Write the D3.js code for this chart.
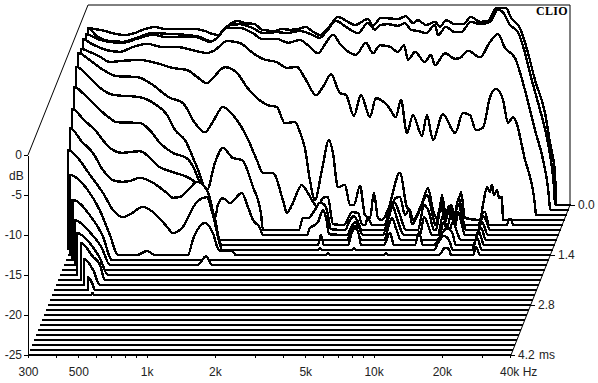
<!DOCTYPE html>
<html lang="en">

<head>
  <meta charset="utf-8">
  <title>CLIO waterfall</title>
  <script src="https://cdn.jsdelivr.net/npm/d3@7/dist/d3.min.js"></script>
  <style>
    html, body { margin: 0; padding: 0; background: #fff; }
    svg { display: block; }
    text { font-family: "Liberation Sans", Arial, sans-serif; font-size: 12px; fill: #222; }
    .clio { font-family: "Liberation Serif", serif; font-weight: bold; font-size: 12px; fill: #000; letter-spacing: 0.3px; }
    .frame { fill: none; stroke: #000; stroke-width: 1; shape-rendering: crispEdges; }
    .axis path, .axis line { stroke: #000; shape-rendering: crispEdges; }
  </style>
</head>

<body>
  <div id="chart"></div>

  <script>
    // every slice is a list of [Hz, dB], floor is -25 dB
    var slice00a = [[300,-2.9],[321,-3.0],[356,-3.25],[394,-3.6],[437,-3.75],[483,-3.5],[535,-3.0],[591,-2.75],[654,-3.0],[762,-3.0],[888,-3.0],[983,-3.25],[1055,-3.6],[1121,-3.75],[1204,-2.9],[1292,-2.25],[1359,-2.0],[1477,-2.25],[1632,-2.4],[1752,-3.1],[2000,-3.25],[2146,-3.0],[2328,-3.1],[2525,-3.0],[2739,-2.75],[2910,-3.25],[3156,-3.75],[3460,-2.75],[3790,-1.5],[4280,-2.25],[4504,-2.5],[5139,-1.75],[5406,-2.6],[5862,-1.6],[6968,-1.75],[7557,-1.4],[8114,-2.25],[8537,-1.9],[9260,-2.5],[10150,-2.1],[10680,-2.75],[11340,-1.9],[12430,-2.4],[13480,-2.4],[14620,-1.5],[16020,-2.1],[17370,-2.0],[18850,-0.4],[20880,-0.4],[21950,-1.6],[24060,-2.9],[26080,-6.0],[28000,-9.4],[31000,-13.5],[32600,-17.25],[34300,-21],[34600,-24.4],[34900,-25]];
    var slice00b = [[300,-2.9],[328,-3.9],[375,-4.5],[428,-4.6],[493,-4.1],[579,-3.5],[668,-3.6],[820,-3.75],[934,-4.0],[1065,-4.6],[1144,-3.75],[1241,-2.6],[1400,-2.4],[1599,-2.9],[1770,-3.5],[2040,-3.4],[2258,-3.5],[2577,-3.25],[2795,-3.5],[3156,-4.1],[3355,-3.4],[3713,-2.0],[4195,-2.9],[4643,-3.5],[5139,-2.25],[5520,-3.1],[5806,-2.5],[6296,-2.4],[6968,-2.6],[7480,-2.25],[7950,-3.1],[8537,-3.25],[9260,-3.5],[10150,-2.5],[10460,-3.75],[11340,-2.75],[12430,-3.4],[13210,-3.4],[14620,-2.1],[16020,-2.4],[17730,-2.1],[19230,-0.6],[20230,-0.9],[21720,-2.5],[23560,-3.4],[25300,-6.0],[26880,-9.0],[29450,-13.1],[31300,-16.0],[32900,-19.4],[33950,-22.75],[34300,-24.8],[34600,-25]];
    var slice01 = [[300,-3.0],[335,-3.6],[382,-4.0],[437,-4.1],[503,-3.6],[591,-3.1],[682,-3.4],[778,-3.4],[924,-3.4],[1055,-4.0],[1132,-3.5],[1253,-2.25],[1430,-2.25],[1632,-2.9],[1788,-3.6],[2082,-3.6],[2328,-4.1],[2630,-3.75],[2850,-4.4],[3156,-5.4],[3424,-4.1],[3677,-3.1],[3987,-4.4],[4643,-5.6],[5139,-4.1],[5520,-5.4],[5920,-4.4],[6557,-4.6],[7110,-5.25],[7560,-4.4],[7870,-6.25],[8450,-5.25],[9350,-6.5],[9940,-5.6],[10350,-6.9],[11450,-5.4],[12680,-6.1],[13340,-6.0],[14470,-5.1],[16350,-5.9],[18090,-4.0],[19620,-3.0],[21070,-4.75],[23320,-6.0],[25800,-10.0],[28570,-15.0],[31000,-18.75],[32600,-22.25],[33280,-24.75],[33600,-25]];
    var slice02 = [[297,-3.0],[319,-3.5],[379,-4.4],[432,-4.6],[493,-4.0],[568,-3.6],[668,-4.0],[770,-4.0],[906,-4.4],[1044,-4.75],[1132,-4.4],[1279,-3.25],[1460,-3.5],[1665,-4.75],[1843,-5.5],[2125,-5.9],[2352,-6.6],[2603,-6.5],[2823,-7.9],[3156,-10.0],[3390,-9.0],[3677,-7.4],[4027,-9.75],[4280,-10.0],[4643,-12.6],[4985,-10.0],[5460,-12.75],[5806,-10.4],[6557,-11.4],[7110,-12.75],[7480,-10.6],[7950,-14.75],[8450,-12.5],[9260,-15.1],[9740,-12.5],[10350,-15.6],[11450,-12.4],[12950,-14.75],[14040,-12.25],[15070,-12.5],[16020,-14.4],[17200,-14.1],[18470,-10.25],[19620,-9.25],[21070,-10.6],[22170,-13.5],[23320,-12.75],[26350,-18.1],[29150,-23.75],[29450,-25]];
    var slice03 = [[297,-3.6],[325,-4.0],[360,-4.6],[398,-5.25],[455,-5.1],[540,-5.0],[641,-5.4],[755,-6.0],[870,-6.25],[963,-7.1],[1065,-7.9],[1132,-7.25],[1279,-5.9],[1445,-6.6],[1599,-8.4],[1770,-9.75],[1959,-10.6],[2168,-10.9],[2352,-12.9],[2603,-12.75],[2739,-14.0],[2880,-16.0],[3030,-20.0],[3190,-22.5],[3424,-18.75],[3677,-15.0],[3828,-16.6],[4027,-20.9],[4325,-20.6],[4550,-23.1],[4740,-23.1],[5040,-20.75],[5300,-24.4],[5575,-24.75],[5806,-21.6],[6050,-24.75],[6296,-25],[6690,-23.75],[7557,-19.1],[8114,-23.4],[8370,-23.75],[8630,-25],[9449,-22.9],[10050,-21.0],[10570,-23.75],[11110,-25],[11576,-21.9],[12060,-24.6],[12680,-23.1],[13210,-24.75],[14040,-21.5],[14620,-24.75],[17030,-25],[17550,-23.1],[18280,-20.9],[18850,-21.5],[19230,-20.6],[19620,-21.9],[20230,-21.25],[20670,-22.25],[21280,-22.1],[21500,-25]];
    var slice04 = [[294,-3.5],[332,-4.4],[379,-5.6],[437,-6.4],[535,-6.5],[610,-7.25],[747,-9.1],[852,-9.75],[963,-12.25],[1065,-13.4],[1155,-12.1],[1279,-10.25],[1415,-11.25],[1632,-14.0],[1806,-16.9],[1920,-18.5],[2125,-18.5],[2352,-21.9],[2448,-23.5],[2577,-22.5],[2850,-20.0],[3030,-21.0],[3190,-22.1],[3355,-22.75],[3530,-21.6],[3713,-21.5],[3907,-24.9],[4370,-25],[4740,-23.4],[5040,-23.5],[5245,-24.9],[5406,-25],[5575,-24.1],[5806,-25],[6557,-25],[6968,-23.1],[7405,-21.6],[7713,-21.5],[8114,-23.75],[8450,-23.1],[8720,-24.9],[9449,-23.1],[10150,-21.25],[10790,-24.0],[11003,-25],[11810,-22.1],[12180,-24.1],[12680,-22.6],[13210,-24.6],[14040,-21.5],[14770,-25],[17030,-25],[17920,-23.5],[18280,-23.4],[19040,-25],[22850,-25],[23320,-24.25],[23800,-24.25],[24290,-25]];
    var slice05 = [[294,-4.6],[339,-6.0],[382,-7.4],[428,-8.1],[562,-8.4],[654,-9.25],[740,-10.6],[803,-12.5],[888,-13.75],[1002,-17.1],[1110,-20.0],[1204,-16.6],[1305,-14.75],[1445,-16.0],[1583,-16.25],[1770,-19.6],[1920,-22.9],[1959,-25],[2823,-25],[2940,-23.5],[3093,-23.5],[3320,-22.5],[3495,-21.6],[3677,-21.9],[3790,-23.1],[3907,-24.9],[4504,-25],[4740,-23.75],[4934,-23.25],[5139,-24.0],[5350,-25],[6690,-25],[7110,-22.75],[7480,-21.6],[7790,-22.75],[8370,-25],[9449,-25],[10050,-21.9],[10570,-22.75],[11110,-25],[11340,-25],[11940,-22.0],[12430,-24.0],[12950,-22.5],[13480,-24.4],[14180,-21.75],[14920,-23.75],[15380,-25],[17370,-25],[18280,-23.25],[18850,-23.75],[19620,-25]];
    var slice06 = [[294,-6.5],[328,-7.5],[363,-8.75],[410,-10.1],[455,-10.9],[573,-11.0],[635,-11.9],[703,-13.5],[803,-14.75],[924,-15.4],[1002,-16.9],[1055,-18.5],[1110,-19.4],[1167,-20.6],[1228,-22.9],[1266,-21.25],[1332,-20.4],[1430,-21.0],[1615,-19.75],[1717,-21.5],[1806,-23.1],[1939,-24.1],[2000,-25],[3124,-25],[3222,-24.1],[3390,-23.75],[3495,-23.4],[3677,-21.9],[3828,-23.4],[3907,-24.9],[4690,-25],[4885,-24.1],[5090,-23.4],[5300,-24.1],[5520,-25],[6755,-25],[7110,-23.1],[7480,-21.5],[7790,-22.9],[8370,-25],[9840,-25],[10250,-22.75],[10680,-23.75],[11110,-25],[11810,-25],[12430,-22.5],[12950,-24.1],[13480,-22.5],[14040,-24.1],[14470,-22.1],[15070,-23.75],[15530,-25],[17370,-25],[18470,-23.4],[19620,-25]];
    var slice07 = [[294,-8.6],[332,-10.0],[371,-11.25],[432,-13.5],[488,-14.1],[585,-13.9],[717,-15.9],[835,-16.6],[943,-17.1],[1023,-17.75],[1110,-19.0],[1191,-20.4],[1253,-22.25],[1319,-25],[4788,-25],[4985,-24.0],[5190,-23.25],[5460,-24.75],[5575,-25],[6968,-25],[7331,-23.1],[7557,-22.25],[7870,-23.5],[8280,-25],[12060,-25],[12813,-22.75],[13340,-24.25],[14040,-22.75],[14620,-24.0],[15230,-25],[17550,-25],[18660,-23.5],[19620,-25]];
    var slice08 = [[294,-10.4],[332,-12.1],[371,-13.5],[410,-15.6],[455,-16.9],[498,-17.1],[540,-17.0],[597,-16.6],[661,-17.0],[786,-18.5],[835,-19.1],[897,-19.0],[1002,-17.75],[1065,-17.1],[1144,-17.6],[1204,-18.75],[1279,-21.9],[1373,-25],[3640,-25],[3750,-23.75],[3870,-25],[4934,-25],[5139,-23.4],[5300,-22.9],[5520,-23.75],[5630,-25],[7110,-25],[7557,-23.5],[7870,-25],[9740,-25],[10150,-23.4],[10570,-25],[11810,-25],[12680,-23.75],[13480,-22.9],[14180,-23.4],[14770,-25],[17550,-25],[18660,-23.4],[19620,-25]];
    var slice09 = [[294,-12.5],[325,-13.5],[367,-15.6],[420,-17.9],[464,-20.0],[513,-20.9],[562,-20.4],[628,-19.6],[696,-20.25],[803,-22.1],[852,-22.9],[934,-22.25],[1087,-19.0],[1204,-18.4],[1279,-20.6],[1415,-25],[3713,-25],[3790,-24.75],[3870,-25],[5245,-25],[5350,-24.75],[5460,-25],[12060,-25],[12550,-24.1],[13340,-23.25],[14040,-23.75],[14620,-25],[17730,-25],[18660,-23.5],[19620,-25]];
    var slice10 = [[306,-15.0],[367,-16.9],[414,-19.4],[459,-22.5],[498,-25],[604,-25],[668,-24.5],[725,-25],[1013,-25],[1065,-23.1],[1204,-21.0],[1305,-22.25],[1387,-24.4],[1445,-24.5],[1583,-24.5],[1648,-25],[4110,-25],[4195,-24.75],[4280,-25],[7405,-25],[7557,-24.75],[7713,-25],[12950,-25],[13760,-24.1],[14330,-24.25],[14620,-25],[18280,-25],[18850,-24.0],[19620,-25]];
    var slice11 = [[321,-17.5],[382,-19.4],[437,-22.1],[478,-25]];
    var slice12 = [[335,-19.4],[390,-20.9],[441,-22.9],[478,-25],[1167,-25],[1266,-23.9],[1346,-25]];
    var slice14 = [[356,-19.75],[406,-21.0],[450,-22.9],[488,-25]];
    var slice15 = [[379,-20.4],[428,-22.1],[459,-23.1],[483,-25]];
    var slice16 = [[398,-21.75],[437,-23.1],[468,-25]];
    var slice17 = [[424,-23.4],[441,-24.1],[455,-25]];
    var slice18 = [[446,-25],[452,-24.75],[459,-25]];

    // time of each slice, back to front, with its measured curve (the rest stay on the floor)
    var sliceTimes = [0, 0, 0.14, 0.28, 0.42, 0.56, 0.7, 0.84, 0.98, 1.12, 1.26, 1.4, 1.54, 1.68, 1.82, 1.96, 2.1, 2.24, 2.38,
      2.52, 2.66, 2.8, 2.94, 3.08, 3.22, 3.36, 3.5, 3.64, 3.78, 3.92, 4.06, 4.2];
    var sliceCurves = [slice00a, slice00b, slice01, slice02, slice03, slice04, slice05, slice06, slice07, slice08, slice09,
      slice10, slice11, slice12, [], slice14, slice15, slice16, slice17, slice18];

    var freqTicks = [300, 400, 500, 600, 700, 800, 900, 1000, 2000, 3000, 4000, 5000, 6000, 7000, 8000, 9000, 10000, 20000, 30000, 40000];
    var freqLabels = { 300: '300', 500: '500', 1000: '1k', 2000: '2k', 5000: '5k', 10000: '10k', 20000: '20k', 40000: '40k Hz' };
    var dbTicks = [0, -5, -10, -15, -20, -25];
    var timeTicks = [0, 1.4, 2.8, 4.2];

    var width = 598, height = 383;
    var freqMin = 300, freqMax = 40340, floorDb = -25;

    var x = d3.scaleLog().domain([freqMin, freqMax]).range([28, 511]);
    var y = d3.scaleLinear().domain([floorDb, 0]).range([355, 155]);
    var depthX = d3.scaleLinear().domain([0, 4.2]).range([60, 0]);
    var depthY = d3.scaleLinear().domain([0, 4.2]).range([-150, 0]);

    var svg = d3.select('#chart').append('svg')
      .attr('width', width)
      .attr('height', height);

    // back wall
    svg.append('path').attr('class', 'frame')
      .attr('d', d3.line()([[28, 155], [88, 5], [570, 5], [570, 205]]))
      .style('shape-rendering', 'auto');
    svg.append('path').attr('class', 'frame')
      .attr('d', d3.line()([[570, 205], [511, 355]]))
      .style('shape-rendering', 'auto');
    svg.append('text').attr('class', 'clio').attr('x', 536).attr('y', 15).text('CLIO');

    var line = d3.line()
      .x(function (d) { return x(d[0]); })
      .y(function (d) { return y(d[1]); })
      .curve(d3.curveMonotoneX);
    var area = d3.area()
      .x(function (d) { return x(d[0]); })
      .y0(y(floorDb))
      .y1(function (d) { return y(d[1]); })
      .curve(d3.curveMonotoneX);

    // floor in front and behind the measured points, plus the wall up to the first one
    function fullSlice(points) {
      if (!points || !points.length) return [[freqMin, floorDb], [freqMax, floorDb]];
      var first = points[0], head = [];
      if (first[0] > freqMin) head.push([freqMin, floorDb]);
      if (first[1] > floorDb) head.push([first[0], floorDb]);
      return head.concat(points, [[freqMax, floorDb]]);
    }

    var slices = svg.selectAll('g.slice')
      .data(sliceTimes)
      .enter().append('g')
      .attr('class', 'slice')
      .attr('transform', function (t) { return 'translate(' + depthX(t) + ',' + depthY(t) + ')'; });

    slices.each(function (t, i) {
      var pts = fullSlice(sliceCurves[i]);
      var g = d3.select(this);
      g.append('path').attr('d', area(pts)).style('fill', '#fff');
      g.append('path').attr('d', line(pts))
        .style('fill', 'none')
        .style('stroke', '#000')
        .style('stroke-width', 2.4)
        .style('shape-rendering', 'crispEdges');
    });

    // axes
    var freqAxis = d3.axisBottom(x)
      .tickValues(freqTicks)
      .tickSize(3)
      .tickSizeOuter(0)
      .tickFormat(function (d) { return freqLabels[d] || ''; });
    var gx = svg.append('g').attr('class', 'axis')
      .attr('transform', 'translate(0,355)')
      .call(freqAxis);
    gx.select('.domain').remove();
    gx.selectAll('text').attr('dy', null).attr('y', 21).style('font-size', '12px').style('fill', '#222');
    gx.selectAll('.tick text').filter(function (d) { return d === 40000; }).attr('dx', 8);

    var dbAxis = d3.axisLeft(y)
      .tickValues(dbTicks)
      .tickSize(4)
      .tickSizeOuter(0)
      .tickFormat(function (d) { return d; });
    var gy = svg.append('g').attr('class', 'axis')
      .attr('transform', 'translate(28,0)')
      .call(dbAxis);
    gy.selectAll('text').attr('x', -6).style('font-size', '12px').style('fill', '#222');

    svg.append('text').attr('x', 9).attr('y', 180).text('dB');

    // time ticks along the right slanted edge
    var timeG = svg.selectAll('g.timeTick')
      .data(timeTicks)
      .enter().append('g')
      .attr('class', 'timeTick axis')
      .attr('transform', function (t) { return 'translate(' + (511 + depthX(t)) + ',' + (355 + depthY(t)) + ')'; });
    timeG.append('line').attr('x1', 0).attr('x2', 4).attr('y1', 0).attr('y2', 0);
    timeG.append('text').attr('x', 7).attr('y', 4).text(function (t) { return t.toFixed(1); });
    svg.append('text').attr('x', 539).attr('y', 359).text('ms');
  </script>
</body>

</html>
